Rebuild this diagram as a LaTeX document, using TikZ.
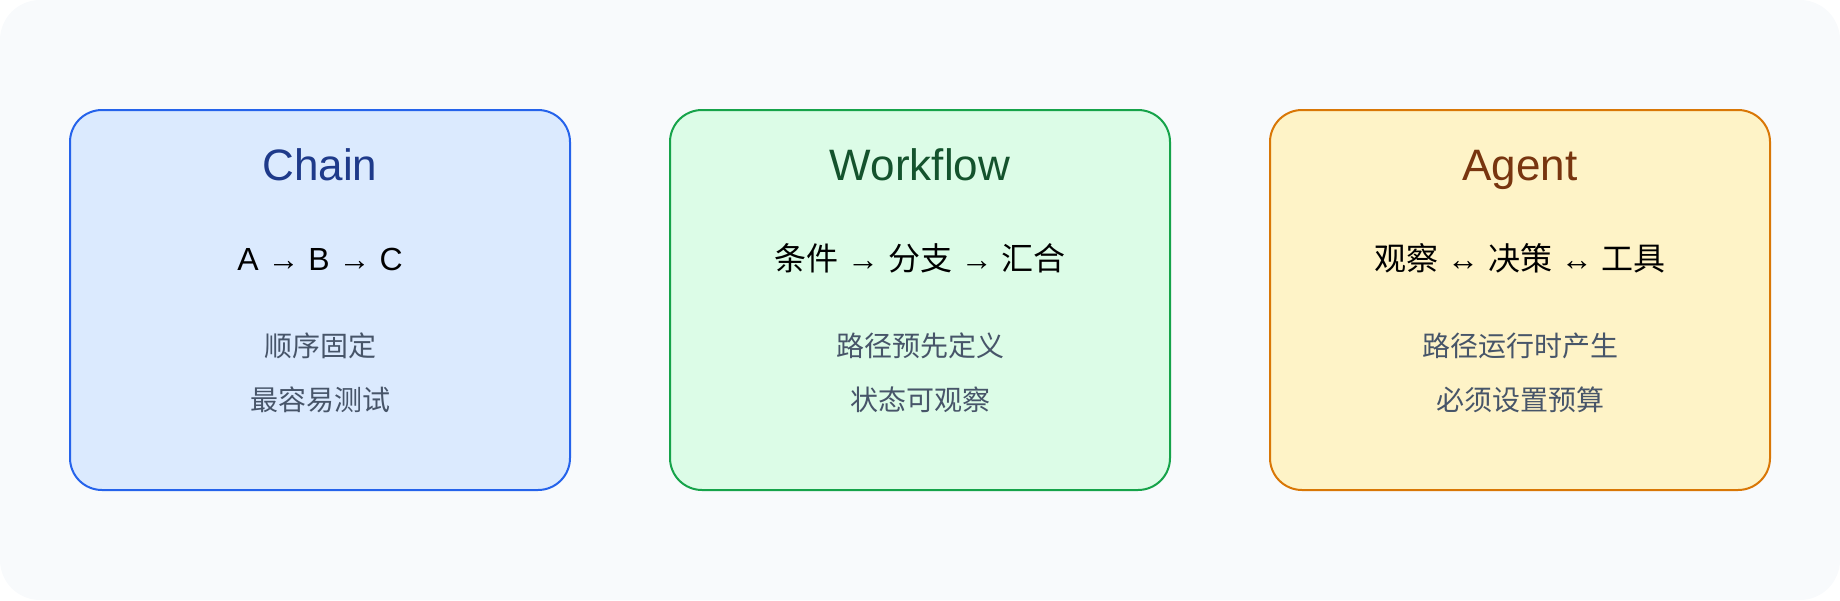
\documentclass[tikz,border=0pt]{standalone}
\usepackage{fontspec}
\setmainfont{Liberation Sans}
\newfontfamily\cjk{Noto Sans CJK SC}
\definecolor{bgc}{HTML}{F8FAFC}
\definecolor{blueF}{HTML}{DBEAFE}
\definecolor{blueD}{HTML}{2563EB}
\definecolor{blueT}{HTML}{1E3A8A}
\definecolor{greenF}{HTML}{DCFCE7}
\definecolor{greenD}{HTML}{16A34A}
\definecolor{greenT}{HTML}{14532D}
\definecolor{amberF}{HTML}{FEF3C7}
\definecolor{amberD}{HTML}{D97706}
\definecolor{amberT}{HTML}{78350F}
\definecolor{subc}{HTML}{475569}
\tikzset{
  panel/.style={rounded corners=24pt, line width=1.5pt, minimum width=375pt, minimum height=285pt, inner sep=0pt},
  titletext/.style={anchor=base, inner sep=0pt, font=\fontsize{33pt}{38pt}\selectfont},
  flowtext/.style={anchor=base, inner sep=0pt, text=black, font=\fontsize{24pt}{28pt}\selectfont},
  subtext/.style={anchor=base, inner sep=0pt, text=subc, font=\fontsize{21pt}{25pt}\selectfont\cjk},
}
\begin{document}
\begin{tikzpicture}[x=0.75pt, y=-0.75pt]
\useasboundingbox (0,0) rectangle (1840,600);
\node[fill=bgc, rounded corners=30pt, minimum width=1380pt, minimum height=450pt, inner sep=0pt] (bg) at (920,300) {};
% Chain
\node[panel, fill=blueF, draw=blueD] (box1) at (320,300) {};
\node[titletext, text=blueT] (t1) at (320,180) {Chain};
\node[flowtext] (f1) at (320,270) {A → B → C};
\node[subtext] (s1a) at (320,356) {顺序固定};
\node[subtext] (s1b) at (320,410) {最容易测试};
% Workflow
\node[panel, fill=greenF, draw=greenD] (box2) at (920,300) {};
\node[titletext, text=greenT] (t2) at (920,180) {Workflow};
\node[flowtext] (f2) at (920,270) {{\cjk 条件} → {\cjk 分支} → {\cjk 汇合}};
\node[subtext] (s2a) at (920,356) {路径预先定义};
\node[subtext] (s2b) at (920,410) {状态可观察};
% Agent
\node[panel, fill=amberF, draw=amberD] (box3) at (1520,300) {};
\node[titletext, text=amberT] (t3) at (1520,180) {Agent};
\node[flowtext] (f3) at (1520,270) {{\cjk 观察} ↔ {\cjk 决策} ↔ {\cjk 工具}};
\node[subtext] (s3a) at (1520,356) {路径运行时产生};
\node[subtext] (s3b) at (1520,410) {必须设置预算};
\end{tikzpicture}
\end{document}
